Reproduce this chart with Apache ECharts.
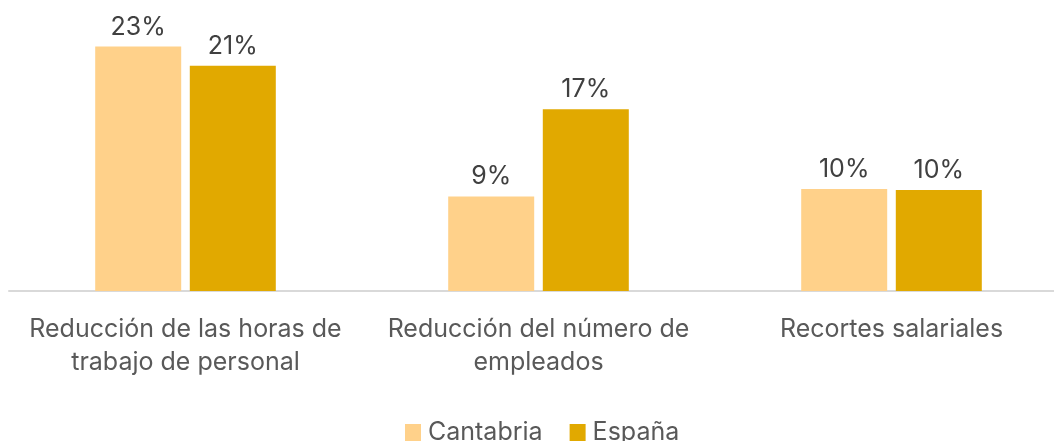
<!DOCTYPE html>
<html>
<head>
<meta charset="utf-8">
<script src="https://cdn.jsdelivr.net/npm/echarts@6/dist/echarts.min.js"></script>
<style>
  html, body { margin: 0; padding: 0; background: #fff; }
  #chart { width: 1054px; height: 441px; }
</style>
</head>
<body>
<div id="chart"></div>
<script>
// datos
var categorias = ['Reducción de las horas de\ntrabajo de personal', 'Reducción del número de\nempleados', 'Recortes salariales'];
var cantabria = [23, 8.9, 9.6];
var espana = [21.2, 17.1, 9.5];

var chart = echarts.init(document.getElementById('chart'));

var etiqueta = {
    show: true,
    position: 'top',
    distance: 7,
    fontFamily: 'Inter',
    fontSize: 25,
    color: '#404040',
    formatter: function (p) { return Math.round(p.value) + '%'; }
};

var option = {
    animation: false,
    textStyle: { fontFamily: 'Inter' },
    grid: { left: 9, right: -14, top: 4, bottom: 150, outerBoundsMode: 'none', containLabel: false },
    legend: {
        data: ['Cantabria', 'España'],
        top: 415,
        left: 400,
        itemWidth: 16,
        itemHeight: 17,
        itemGap: 27,
        icon: 'rect',
        textStyle: { fontSize: 25, color: '#595959', padding: [0, 0, 0, 2] }
    },
    xAxis: {
        type: 'category',
        data: categorias,
        axisLine: { lineStyle: { color: '#d9d9d9', width: 2 } },
        axisTick: { show: false },
        axisLabel: { fontSize: 25, color: '#595959', lineHeight: 33, margin: 22, interval: 0 }
    },
    yAxis: {
        type: 'value',
        min: 0,
        max: 27,
        show: false,
        splitLine: { show: false }
    },
    series: [
        {
            name: 'Cantabria',
            type: 'bar',
            data: cantabria,
            barWidth: 86,
            barGap: '10%',
            itemStyle: { color: '#ffd18a' },
            label: etiqueta
        },
        {
            name: 'España',
            type: 'bar',
            data: espana,
            barWidth: 86,
            itemStyle: { color: '#e1a900' },
            label: etiqueta
        }
    ]
};
chart.setOption(option);
</script>
</body>
</html>
